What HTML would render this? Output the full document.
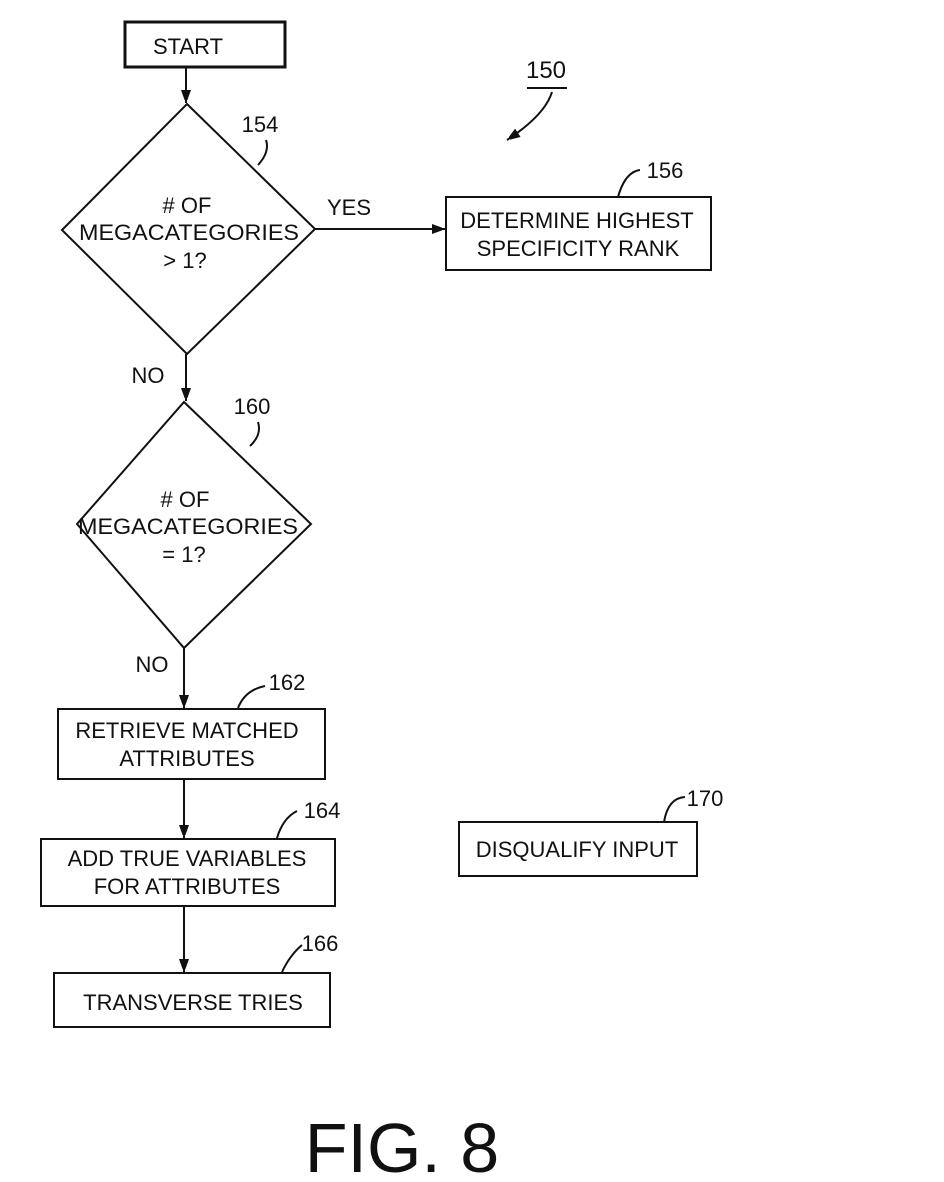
<!DOCTYPE html>
<html><head><meta charset="utf-8"><style>
html,body{margin:0;padding:0;background:#fff;}
svg{display:block}
text{font-family:"Liberation Sans",sans-serif;fill:#111;}
</style></head><body>
<svg width="944" height="1182" viewBox="0 0 944 1182" xmlns="http://www.w3.org/2000/svg">
<defs><marker id="a" markerWidth="10" markerHeight="14" refX="13" refY="5" orient="auto" markerUnits="userSpaceOnUse"><path d="M0,0 L14,5 L0,10 Z" fill="#111"/></marker></defs>
<g stroke="#111" stroke-width="2" fill="none">
<rect x="125" y="22" width="160" height="45" stroke-width="3"/>
<line x1="186" y1="67" x2="186" y2="103" marker-end="url(#a)"/>
<polygon points="187,104 315,229 187,354 62,230"/>
<line x1="315" y1="229" x2="445" y2="229" marker-end="url(#a)"/>
<rect x="446" y="197" width="265" height="73"/>
<line x1="186" y1="354" x2="186" y2="401" marker-end="url(#a)"/>
<polygon points="184,402 311,524 184,648 77,524"/>
<line x1="184" y1="648" x2="184" y2="708" marker-end="url(#a)"/>
<rect x="58" y="709" width="267" height="70"/>
<line x1="184" y1="779" x2="184" y2="838" marker-end="url(#a)"/>
<rect x="41" y="839" width="294" height="67"/>
<line x1="184" y1="906" x2="184" y2="972" marker-end="url(#a)"/>
<rect x="54" y="973" width="276" height="54"/>
<rect x="459" y="822" width="238" height="54"/>
<path d="M258,165 Q270,152 266,140"/>
<path d="M527,88 L567,88"/>
<path d="M552,92 Q545,115 507,140" marker-end="url(#a)"/>
<path d="M618,197 Q625,172 640,170"/>
<path d="M250,446 Q262,435 258,422"/>
<path d="M238,708 Q245,690 265,686"/>
<path d="M277,838 Q283,818 297,811"/>
<path d="M282,972 Q290,955 302,945"/>
<path d="M664,822 Q668,798 685,797"/>
</g>
<g font-size="22" text-anchor="middle">
<text x="188" y="54">START</text>
<text x="260" y="132">154</text>
<text x="546" y="78" font-size="24">150</text>
<text x="665" y="178">156</text>
<text x="349" y="215">YES</text>
<text x="187" y="213">#  OF</text>
<text x="189" y="240" textLength="220" lengthAdjust="spacingAndGlyphs">MEGACATEGORIES</text>
<text x="185" y="268">&gt;  1?</text>
<text x="577" y="228">DETERMINE HIGHEST</text>
<text x="578" y="256">SPECIFICITY RANK</text>
<text x="148" y="383">NO</text>
<text x="252" y="414">160</text>
<text x="185" y="507">#  OF</text>
<text x="188" y="534" textLength="220" lengthAdjust="spacingAndGlyphs">MEGACATEGORIES</text>
<text x="184" y="562">=  1?</text>
<text x="152" y="672">NO</text>
<text x="287" y="690">162</text>
<text x="187" y="738">RETRIEVE MATCHED</text>
<text x="187" y="766">ATTRIBUTES</text>
<text x="322" y="818">164</text>
<text x="187" y="866">ADD TRUE VARIABLES</text>
<text x="187" y="894">FOR ATTRIBUTES</text>
<text x="320" y="951">166</text>
<text x="193" y="1010">TRANSVERSE TRIES</text>
<text x="705" y="806">170</text>
<text x="577" y="857">DISQUALIFY INPUT</text>
<text x="402" y="1172" font-size="70">FIG.  8</text>
</g>
</svg>
</body></html>
